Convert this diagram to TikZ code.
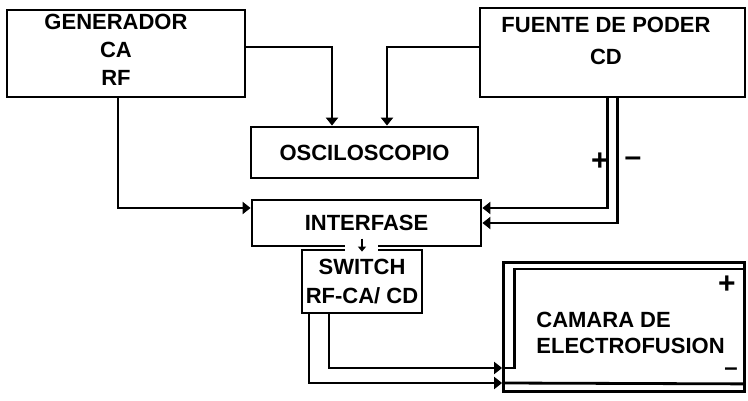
\documentclass[tikz,border=0pt]{standalone}
\usepackage{fontspec}
\setmainfont{Liberation Sans}
\usetikzlibrary{arrows.meta,calc}

\begin{document}
\begin{tikzpicture}[x=1pt, y=-1pt, line width=2.8pt,
    >={Triangle[length=8pt,width=12pt]},
    caja/.style={draw, inner sep=0pt, align=center, font=\fontsize{22}{29}\selectfont\bfseries},
    texto/.style={inner sep=0pt, align=center, font=\fontsize{22}{28}\selectfont\bfseries},
    signo/.style={inner sep=0pt, font=\fontsize{30}{30}\selectfont\bfseries}]
    \useasboundingbox (0,0) rectangle (748,401);

    % bloques de arriba
    \node[caja, minimum width=238pt, minimum height=87pt] (gen) at (126,53.5) {};
    \node[texto] (gentxt) at (116,50) {GENERADOR\\CA\\RF};
    \node[caja, minimum width=265pt, minimum height=89pt] (fuente) at (612.5,52.5) {};
    \node[texto, font=\fontsize{22}{32}\selectfont\bfseries] (fuentetxt) at (606,41) {FUENTE DE PODER\\CD};

    % osciloscopio, interfase y switch
    \node[caja, minimum width=227pt, minimum height=51pt] (osc) at (364.5,152.5) {OSCILOSCOPIO};
    \node[caja, minimum width=229pt, minimum height=46pt] (inter) at (366.5,223) {INTERFASE};
    \node[caja, minimum width=120pt, minimum height=63pt] (switch) at (362,281.5) {SWITCH\\RF-CA/ CD};

    % camara con sus electrodos
    \node[caja, minimum width=241pt, minimum height=129pt] (camara) at (624,327) {};
    \node[texto, align=left, anchor=west, font=\fontsize{22}{26}\selectfont\bfseries] (camaratxt) at (535,333) {CAMARA DE\\ELECTROFUSION};
    \draw ([yshift=-41pt]camara.west) -- ++(12,0) |- ($(camara.north east)+(-2,8)$);
    \draw ([yshift=-56pt]camara.west) -- ($(camara.south east)+(-2,-9)$);
    \node[signo] (mas2) at (727,285) {+};
    \node[signo, font=\fontsize{24}{24}\selectfont\bfseries] (menos2) at (731,372) {\textendash};

    % señales al osciloscopio
    \draw[->] ([yshift=6.5pt]gen.east) -| ([xshift=-32.5pt]osc.north);
    \draw[->] ([yshift=5.5pt]fuente.west) -| ([xshift=22.5pt]osc.north);

    % entradas de la interfase
    \draw[->] ([xshift=-8pt]gen.south) |- ([yshift=15pt]inter.west);
    \draw[->] ([xshift=-5pt]fuente.south) |- ([yshift=15pt]inter.east);
    \draw[->] ([xshift=5pt]fuente.south) |- (inter.east);
    \node[signo] (mas1) at (600,162) {+};
    \node[signo] (menos1) at (633,162) {\textendash};

    % interfase -> switch
    \fill[white] ($(switch.north)+(-17,-7)$) rectangle ($(switch.north)+(16,2)$);
    \draw[->, >={Triangle[length=5pt,width=8pt]}, line width=2pt] ([yshift=10pt]switch.north) -- ([yshift=-3pt]switch.north);

    % switch -> camara
    \draw[->] ([xshift=-33pt]switch.south) |- ([yshift=-41pt]camara.west);
    \draw[->] ([xshift=-53pt]switch.south) |- ([yshift=-56pt]camara.west);
\end{tikzpicture}
\end{document}
